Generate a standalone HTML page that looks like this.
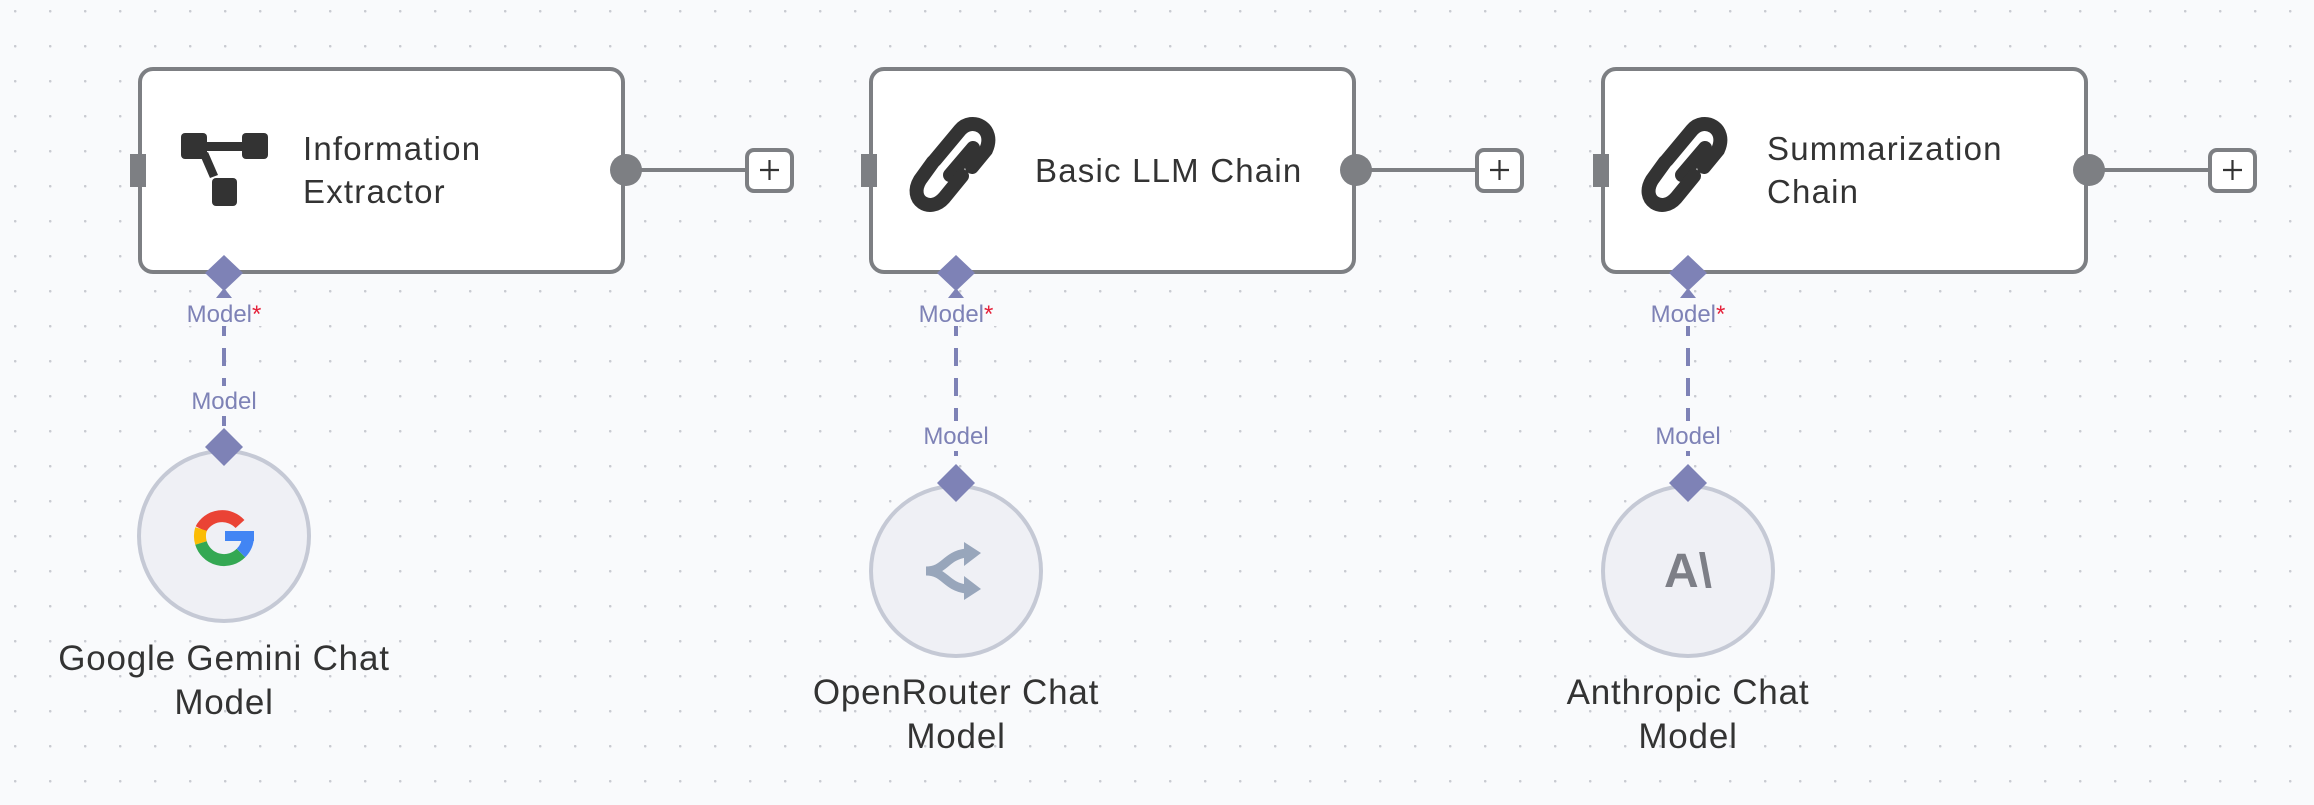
<!DOCTYPE html>
<html><head><meta charset="utf-8"><style>
html,body{margin:0;padding:0;width:2314px;height:805px;overflow:hidden;background:#f9fafc}
svg{display:block}
text{font-family:"Liberation Sans",sans-serif}
</style></head><body>
<svg width="2314" height="805" viewBox="0 0 2314 805" xmlns="http://www.w3.org/2000/svg">
<defs>
<pattern id="dots" x="14" y="10" width="35" height="35" patternUnits="userSpaceOnUse">
<circle cx="1.2" cy="1.2" r="1.3" fill="#c9cbd2"/>
</pattern>
</defs>
<rect width="2314" height="805" fill="#f9fafc"/>
<rect width="2314" height="805" fill="url(#dots)"/>

<g stroke="#7d7f83" stroke-width="4">
<line x1="626" y1="170" x2="747" y2="170"/>
<line x1="1356" y1="170" x2="1477" y2="170"/>
<line x1="2089" y1="170" x2="2210" y2="170"/>
</g>
<g fill="#fff" stroke="#7d7f83" stroke-width="4">
<rect x="747" y="150" width="45" height="41" rx="7"/>
<rect x="1477" y="150" width="45" height="41" rx="7"/>
<rect x="2210" y="150" width="45" height="41" rx="7"/>
</g>
<g stroke="#333" stroke-width="2.2">
<path d="M760 170h19M769.5 160v20"/>
<path d="M1490 170h19M1499.5 160v20"/>
<path d="M2223 170h19M2232.5 160v20"/>
</g>

<g stroke="#7e82b6" stroke-width="4" stroke-dasharray="18,12">
<line x1="224" y1="318" x2="224" y2="440"/>
<line x1="956" y1="318" x2="956" y2="476"/>
<line x1="1688" y1="318" x2="1688" y2="476"/>
</g>

<g fill="#fff" stroke="#7d7f83" stroke-width="4">
<rect x="140" y="69" width="483" height="203" rx="13"/>
<rect x="871" y="69" width="483" height="203" rx="13"/>
<rect x="1603" y="69" width="483" height="203" rx="13"/>
</g>
<g fill="#7d7f83">
<rect x="130" y="154" width="16" height="33"/>
<rect x="861" y="154" width="16" height="33"/>
<rect x="1593" y="154" width="16" height="33"/>
<circle cx="626" cy="170" r="16"/>
<circle cx="1356" cy="170" r="16"/>
<circle cx="2089" cy="170" r="16"/>
</g>

<g fill="#333">
<rect x="181" y="133" width="26" height="26" rx="4"/>
<rect x="242" y="133" width="26" height="26" rx="4"/>
<rect x="212" y="178" width="25" height="28" rx="4"/>
<rect x="200" y="142" width="45" height="9"/>
<path d="M200 155 L208 152 L218 175 L210 178 Z"/>
</g>
<g fill="none" stroke="#333" stroke-width="14" stroke-linecap="round">
<path d="M935 160 L960 130 C972 116 996 128 986 150 L972 167"/>
<path d="M973 148 L950 175"/>
<path d="M933 162 L920 180 C908 200 930 214 944 198 L962 176"/>
<path d="M1667 160 L1692 130 C1704 116 1728 128 1718 150 L1704 167"/>
<path d="M1705 148 L1682 175"/>
<path d="M1665 162 L1652 180 C1640 200 1662 214 1676 198 L1694 176"/>
</g>

<g fill="#333" font-size="33" letter-spacing="1.2">
<text x="303" y="160">Information</text>
<text x="303" y="203">Extractor</text>
<text x="1035" y="182">Basic LLM Chain</text>
<text x="1767" y="160">Summarization</text>
<text x="1767" y="203">Chain</text>
</g>

<g fill="#7e82b6">
<path d="M224 255 L243 273 L224 291 L205 273Z"/><path d="M224 288 L232 298 L216 298Z"/>
<path d="M956 255 L975 273 L956 291 L937 273Z"/><path d="M956 288 L964 298 L948 298Z"/>
<path d="M1688 255 L1707 273 L1688 291 L1669 273Z"/><path d="M1688 288 L1696 298 L1680 298Z"/>
</g>
<g font-size="24" fill="#7e82b6" text-anchor="middle">
<rect x="176" y="298" width="98" height="28" fill="#f9fafc"/>
<rect x="908" y="298" width="98" height="28" fill="#f9fafc"/>
<rect x="1640" y="298" width="98" height="28" fill="#f9fafc"/>
<text x="224" y="322">Model<tspan fill="#e5213a">*</tspan></text>
<text x="956" y="322">Model<tspan fill="#e5213a">*</tspan></text>
<text x="1688" y="322">Model<tspan fill="#e5213a">*</tspan></text>
<rect x="182" y="386" width="84" height="30" fill="#f9fafc"/>
<rect x="914" y="421" width="84" height="30" fill="#f9fafc"/>
<rect x="1646" y="421" width="84" height="30" fill="#f9fafc"/>
<text x="224" y="409">Model</text>
<text x="956" y="444">Model</text>
<text x="1688" y="444">Model</text>
</g>

<g fill="#eff0f5" stroke="#c5c9d5" stroke-width="4">
<circle cx="224" cy="536" r="85"/>
<circle cx="956" cy="571" r="85"/>
<circle cx="1688" cy="571" r="85"/>
</g>
<g fill="#7e82b6">
<path d="M224 428 L243 447 L224 466 L205 447Z"/>
<path d="M956 464 L975 483 L956 502 L937 483Z"/>
<path d="M1688 464 L1707 483 L1688 502 L1669 483Z"/>
</g>

<g fill="none" stroke-width="12">
<path d="M240 524 A24 24 0 0 0 201 529" stroke="#ea4335"/>
<path d="M201 529 A24 24 0 0 0 201 543" stroke="#fbbc05"/>
<path d="M201 543 A24 24 0 0 0 241 553" stroke="#34a853"/>
<path d="M241 553 A24 24 0 0 0 248 536" stroke="#4285f4"/>
</g>
<rect x="225" y="531" width="29" height="10" fill="#4285f4"/>

<g fill="none" stroke="#98a6bb" stroke-width="9">
<path d="M926 571 C945 571 945 556 966 553"/>
<path d="M926 571 C945 571 945 586 966 589"/>
</g>
<g fill="#98a6bb">
<path d="M964 542 L981 553 L964 566Z"/>
<path d="M964 576 L981 589 L964 600Z"/>
</g>
<text x="1688" y="587" font-size="48" font-weight="bold" fill="#7d7f87" text-anchor="middle">A\</text>

<g fill="#333" font-size="35" text-anchor="middle" letter-spacing="0.8">
<text x="224" y="670">Google Gemini Chat</text>
<text x="224" y="714">Model</text>
<text x="956" y="704">OpenRouter Chat</text>
<text x="956" y="748">Model</text>
<text x="1688" y="704">Anthropic Chat</text>
<text x="1688" y="748">Model</text>
</g>
</svg>
</body></html>
